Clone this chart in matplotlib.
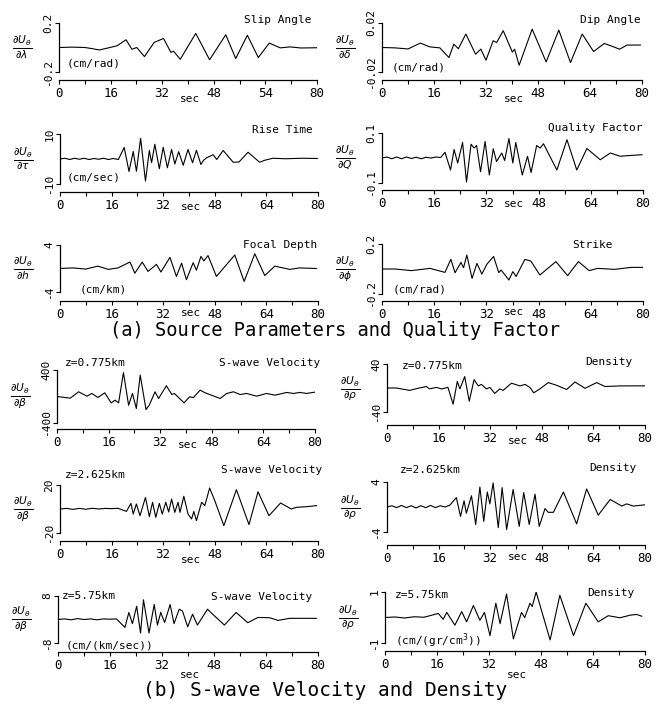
import numpy as np
import matplotlib.pyplot as plt

W, H = 665, 707
plt.rcParams['font.family'] = ['DejaVu Sans Mono', 'DejaVu Sans']
plt.rcParams['mathtext.fontset'] = 'dejavusans'

# ---- traces (time in sec, amplitude in axis units) ----
slip_t = [0, 4, 8, 10, 12.5, 15, 18, 20.8, 22.6, 24.1, 26.5, 29.5, 32.4, 34.7, 35.5, 37.6, 42.4, 46.7,
          51.7, 54.8, 58.4, 61.8, 65.2, 68.6, 71.7, 75, 80]
slip_v = [0, 0.003, 0, -0.008, -0.02, -0.005, 0.014, 0.063, -0.014, 0, -0.074, 0.041, 0.074, -0.04, -0.03,
          -0.096, 0.115, -0.1, 0.104, -0.09, 0.1, -0.082, 0.036, -0.003, 0.005, -0.004, -0.002]

dip_t = [0, 4, 8, 11.8, 14.7, 17.8, 20.6, 22.1, 23.5, 25.8, 28.8, 30.4, 32.0, 34.2, 35.3, 37.3, 40.1, 40.8,
         42.2, 46.2, 50.5, 54.4, 58.0, 61.6, 65.1, 68.4, 71.3, 73.1, 75.4, 79.5]
dip_v = [0, -0.0003, -0.0012, 0.0036, 0.0005, -0.0003, -0.0082, 0.0027, -0.001, 0.011, -0.0055, -0.0013,
         -0.0104, 0.0055, 0.0041, 0.0137, -0.0037, -0.0014, -0.0145, 0.015, -0.0118, 0.0142, -0.0123, 0.011,
         -0.0033, 0.0033, 0.0005, -0.0014, 0.002, 0.002]

rise_t = [0, 1.5, 3, 4.5, 6, 7.5, 9, 10.5, 12, 13.5, 15, 16.5, 18.1, 19.9, 21.4, 22.7, 23.7, 25.0, 26.5,
          27.7, 28.4, 29.4, 30.8, 32.0, 33.3, 34.6, 35.6, 36.8, 38.2, 39.7, 41.1, 42.3, 43.7, 44.5, 45.5,
          47.5, 48.6, 50.6, 53.7, 55.5, 58.3, 61.9, 63.5, 66, 70, 75, 80]
rise_v = [0, 0.3, -0.2, 0.3, -0.1, 0.3, -0.2, 0.2, -0.1, 0.3, -0.2, 0.2, -0.2, 4.6, -5.0, 3.0, -4.9, 8.3,
          -8.8, 3.4, -1.5, 5.9, -3.9, 4.7, -3.5, 3.8, -2.0, 2.9, -2.5, 3.8, -1.5, 3.5, -2.2, -0.5, 0.5, 1.7,
          -0.2, 3.4, -1.3, -1.2, 2.7, -1.3, -0.5, 0.3, 0.1, 0.3, 0.2]

qual_t = [0, 1.5, 3, 4.5, 6, 7.5, 9, 10.5, 12, 13.5, 15, 16.5, 18, 19.3, 21.0, 22.1, 23.2, 24.7, 25.9,
          27.3, 28.2, 29.0, 30.2, 31.6, 32.9, 34.1, 35.1, 36.7, 37.6, 38.9, 40.1, 41.0, 43.0, 44.6, 45.7,
          47.4, 48.5, 49.5, 53.6, 56.7, 59.7, 62.8, 66.9, 70.0, 73, 76, 79.7]
qual_v = [0, 0.004, -0.003, 0.004, -0.003, 0.004, -0.002, 0.003, -0.003, 0.003, 0, 0.004, 0.002, 0.023,
          -0.048, 0.034, -0.02, 0.062, -0.096, 0.055, 0.04, 0.05, -0.055, 0.066, -0.068, 0.037, -0.014,
          0.02, -0.01, 0.078, -0.02, 0.062, -0.068, 0.007, -0.058, 0.05, 0.04, 0.057, -0.048, 0.073,
          -0.048, 0.038, -0.007, 0.02, 0.007, 0.01, 0.013]

depth_t = [0, 4, 8, 11.7, 15, 18, 21.7, 23.2, 25.5, 27.3, 29.9, 31.3, 34.1, 36.1, 37.7, 39.2, 41.3, 42.3,
           43.7, 44.6, 45.9, 48.5, 54.2, 57.1, 60.4, 63.5, 66.6, 71.2, 74.3, 79.5]
depth_v = [0, 0.1, -0.1, 0.4, -0.15, 0.1, 1.1, -0.8, 1.1, -0.5, 0.7, -0.6, 1.9, -1.35, 0.9, -1.9, 1.0,
           -0.3, 2.06, 1.3, 2.2, -1.35, 2.3, -2.2, 2.5, -1.2, 0.4, -0.15, 0.1, 0]

strike_t = [0, 4, 9, 14.7, 19.3, 21.1, 22.4, 24.2, 25.0, 26.0, 27.6, 29.1, 30.6, 32.2, 34.2, 35.8, 36.5,
            38.9, 40.1, 41.1, 43.8, 45.6, 48.4, 53.3, 56.9, 60.2, 63.5, 66.1, 71.3, 76.4, 80]
strike_v = [0, 0, -0.013, 0.005, -0.027, 0.077, -0.03, 0.053, 0.01, 0.112, -0.075, 0.045, -0.04, 0.04, 0.1,
            -0.029, -0.008, -0.088, -0.021, -0.06, 0.077, 0.064, -0.048, 0.059, -0.053, 0.059, -0.013,
            0.005, -0.003, 0.013, 0.013]

vs1_t = [0, 4.1, 6.7, 9.3, 10.8, 12.7, 14.8, 16.8, 18.0, 19.1, 20.6, 22.2, 23.4, 24.6, 25.8, 27.6, 28.6,
         30.4, 31.5, 33.9, 35.6, 36.4, 39.4, 41.1, 42.3, 44.4, 45.9, 50.6, 52.6, 54.7, 56.8, 58.8, 61.9,
         65, 67.6, 71.2, 73.3, 75.3, 77.4, 80]
vs1_v = [0, -25, 71, 5, 46, -15, 56, -96, -56, -96, 360, -132, 46, -182, 324, -197, -132, 71, -30, 162,
         30, 46, -96, -5, -15, 96, 56, -30, 46, 71, 30, 46, 5, 46, 20, 61, 46, 61, 46, 66]

rho1_t = [0, 2.9, 7, 9.6, 12.2, 13.2, 15.3, 16.9, 18.9, 20.5, 21.8, 22.6, 24.1, 25.5, 27.0, 28.3, 29.3,
          30.8, 31.9, 33.4, 35, 36, 38.6, 41.2, 42.8, 44.3, 45.5, 47.4, 50, 52.6, 55.7, 58.3, 61.4, 65,
          67.6, 72.3, 80]
rho1_v = [0, 0, -4, -0.5, 2.5, -1.5, 1, -1.5, 1, -27, 11, -1.5, 19, -22, 14, 3.5, 6, -1.5, 1, -9, -1.5,
          -4, 8, 3.5, 6, 1, -8, -1.5, 9, 4.5, -2.5, 10, -0.5, 9, 2.5, 3.5, 3.6]

vs2_t = [0, 2, 4, 6, 8, 10, 12, 14, 16, 18, 20.6, 22.0, 22.7, 23.7, 24.8, 26.5, 27.7, 28.7, 29.7, 30.8,
         31.7, 32.8, 33.7, 34.6, 35.6, 36.6, 37.2, 38.4, 39.7, 40.8, 41.5, 42.3, 43.9, 44.9, 46.4, 48.0,
         50.8, 54.7, 58.6, 61.4, 64.8, 68.4, 71.7, 73.3, 76.4, 79.5]
vs2_v = [0, 0.5, -0.3, 0.5, -0.2, 0.6, 0, 0.5, 0.3, 0.6, -2, 4.7, -4.2, 4.2, -5.6, 9.7, -6.4, 5.6, -7,
         4.7, -4.2, 5.6, -2.5, 8.3, -2.8, 5.6, -2.8, 10.6, -4.2, -8.3, -2, -9.7, 5.6, 2.8, 17.5, 6.9,
         -13.9, 16.1, -13, 14.4, -5.6, 5, 0, 1.4, 1.9, 2.8]

rho2_t = [0, 1.5, 3, 4.5, 6, 7.5, 9, 10.5, 12, 13.5, 15, 16.5, 18, 19.5, 21.5, 22.8, 23.9, 24.6, 26.2,
          27.5, 28.8, 30.0, 31.1, 31.9, 32.9, 34.5, 35.7, 37.1, 39.1, 41.0, 42.4, 44.1, 45.9, 47.2, 49.0,
          50, 51.6, 54.7, 58.8, 61.9, 65.5, 69.2, 72.8, 74.3, 76.4, 80]
rho2_v = [0, 0.2, -0.1, 0.25, -0.1, 0.2, -0.15, 0.2, -0.1, 0.25, -0.1, 0.2, 0, 0.3, 1.5, -1.5, 1.0,
          -1.0, 1.8, -2.8, 3.2, -2.3, 2.4, 0.5, 3.85, -3.3, 3.1, -3.6, 2.8, -3.1, 2.3, -2.8, 2.05, -3.1,
          -0.25, -0.85, -0.85, 2.4, -2.7, 2.9, -1.3, 1.2, 0.15, 0.5, 0.15, 0.35]

vs3_t = [0, 2, 4, 6, 8, 10, 12, 14, 16, 18, 20.6, 21.8, 22.9, 24.2, 25.4, 26.3, 28.0, 29.6, 30.6, 31.6,
         32.8, 34.5, 35.7, 37.3, 38.3, 39.9, 41.4, 42.9, 46, 47.6, 51.2, 54.8, 58.4, 61.5, 65.1, 67.7,
         71.3, 79.5]
vs3_v = [0, 0.2, -0.1, 0.3, 0, 0.2, -0.1, 0.2, 0.1, 0.2, -2.7, 2.4, -1.4, 4.5, -4.6, 6.7, -4.6, 5.1,
         -1.9, 2.4, -1.0, 5.1, -1.4, 3.5, 2.9, -2.5, 1.8, -1.9, 3.5, 1.8, -1.9, 2.4, -1.1, 0.7, 0.6,
         -0.3, 0.4, 0.4]

rho3_t = [0, 3, 6, 9, 12, 13.8, 16.4, 17.9, 19.0, 21.5, 23.6, 25.1, 27.2, 29.2, 30.6, 32.3, 34.1, 35.4,
          37.4, 39.5, 42.0, 43.0, 44.6, 45.3, 46.5, 50.8, 53.8, 58.0, 61.8, 65.6, 68.7, 72.3, 75.4, 77.4, 79]
rho3_v = [0, 0.02, -0.02, 0.03, 0.01, 0.07, 0.16, -0.07, 0.2, -0.3, 0.23, -0.17, 0.47, -0.11, 0.2,
          -0.71, 0.56, -0.24, 0.92, -0.84, 0.2, 0.0, 0.56, 0.43, 1.0, -0.88, 0.87, -0.71, 0.56, -0.17,
          0.07, -0.01, 0.09, 0.12, 0.05]

xlabels = ['0', '16', '32', '48', '64', '80']
xlabels_slip = ['0', '16', '32', '48', '54', '80']

fig = plt.figure(figsize=(W / 100, H / 100), dpi=100)


def px(x, y):
    return x / W, 1 - y / H


def panel(box, t, v, lim, ylim_lbl, ylab, title, title_xy, sec_y, xl=xlabels, note=None, depth=None):
    x0, x1, ytop, ybot, yax = box
    ax = fig.add_axes([x0 / W, 1 - ybot / H, (x1 - x0) / W, (ybot - ytop) / H])
    ax.plot(t, v, color='black', lw=0.8, solid_joinstyle='round')
    ax.set_xlim(0, 80)
    ax.set_ylim(-lim, lim)
    ax.patch.set_alpha(0)
    for s in ['top', 'right']:
        ax.spines[s].set_visible(False)
    ax.spines['left'].set_linewidth(0.9)
    ax.spines['bottom'].set_linewidth(0.9)
    ax.spines['bottom'].set_position(('outward', (yax - ybot) * 0.72))
    ax.set_xticks(np.arange(0, 81, 8))
    ax.set_xticklabels([xl[i // 2] if i % 2 == 0 else '' for i in range(11)], fontsize=9)
    ax.tick_params(axis='x', length=3, width=0.8, pad=2)
    ax.set_yticks([-lim, lim])
    ax.set_yticklabels(ylim_lbl, rotation=90, va='center', fontsize=8)
    ax.tick_params(axis='y', length=3, width=0.8, pad=1)
    fig.text(*px(x0 + (x1 - x0) * 0.5 + 2, sec_y), 'sec', fontsize=8, ha='center', va='center')
    fig.text(*px(*title_xy), title, fontsize=8, ha='right', va='center')
    fig.text(*px(x0 - 37, (ytop + ybot) / 2), ylab, fontsize=11, ha='center', va='center')
    if note:
        fig.text(*px(*note[1]), note[0], fontsize=8, ha='left', va='center')
    if depth:
        fig.text(*px(*depth[1]), depth[0], fontsize=8, ha='left', va='center')
    return ax


frac = r'$\frac{\partial U_\theta}{\partial %s}$'

panel((59, 317, 23, 72, 80), slip_t, slip_v, 0.2, ['-0.2', '0.2'], frac % r'\lambda', 'Slip Angle',
      (312, 20), 99, xl=xlabels_slip, note=('(cm/rad)', (67, 63)))
panel((382, 642, 23, 72, 80), dip_t, dip_v, 0.02, ['-0.02', '0.02'], frac % r'\delta', 'Dip Angle',
      (641, 20), 99, note=('(cm/rad)', (392, 68)))
panel((60, 318, 134, 184, 192), rise_t, rise_v, 10, ['-10', '10'], frac % r'\tau', 'Rise Time',
      (313, 130), 207, note=('(cm/sec)', (67, 178)))
panel((382, 643, 133, 183, 190), qual_t, qual_v, 0.1, ['-0.1', '0.1'], frac % 'Q', 'Quality Factor',
      (643, 128), 204)
panel((60, 318, 245, 292, 301), depth_t, depth_v, 4, ['-4', '4'], frac % 'h', 'Focal Depth',
      (317, 245), 313, note=('(cm/km)', (80, 290)))
panel((382, 643, 244, 294, 301), strike_t, strike_v, 0.2, ['-0.2', '0.2'], frac % r'\phi', 'Strike',
      (613, 245), 312, note=('(cm/rad)', (393, 289)))

panel((57, 315, 370, 423, 429), vs1_t, vs1_v, 400, ['-400', '400'], frac % r'\beta', 'S-wave Velocity',
      (320, 363), 445, depth=('z=0.775km', (65, 363)))
panel((387, 645, 364, 412, 425), rho1_t, rho1_v, 40, ['-40', '40'], frac % r'\rho', 'Density',
      (633, 362), 441, depth=('z=0.775km', (402, 366)))
panel((60, 318, 485, 533, 541), vs2_t, vs2_v, 20, ['-20', '20'], frac % r'\beta', 'S-wave Velocity',
      (322, 470), 560, depth=('z=2.625km', (65, 475)))
panel((387, 645, 482, 532, 545), rho2_t, rho2_v, 4, ['-4', '4'], frac % r'\rho', 'Density',
      (637, 468), 557, depth=('z=2.625km', (400, 470)))
panel((58, 318, 596, 643, 652), vs3_t, vs3_v, 8, ['-8', '8'], frac % r'\beta', 'S-wave Velocity',
      (312, 597), 675, note=('(cm/(km/sec))', (66, 645)), depth=('z=5.75km', (62, 596)))
panel((385, 645, 592, 643, 651), rho3_t, rho3_v, 1, ['-1', '1'], frac % r'\rho', 'Density',
      (635, 593), 675, note=(r'(cm/(gr/cm$^3$))', (395, 641)), depth=('z=5.75km', (395, 595)))

fig.text(*px(335, 330), '(a) Source Parameters and Quality Factor', fontsize=13.5, ha='center', va='center')
fig.text(*px(325, 690), '(b) S-wave Velocity and Density', fontsize=14, ha='center', va='center')

fig.savefig('out.png', dpi=100)
